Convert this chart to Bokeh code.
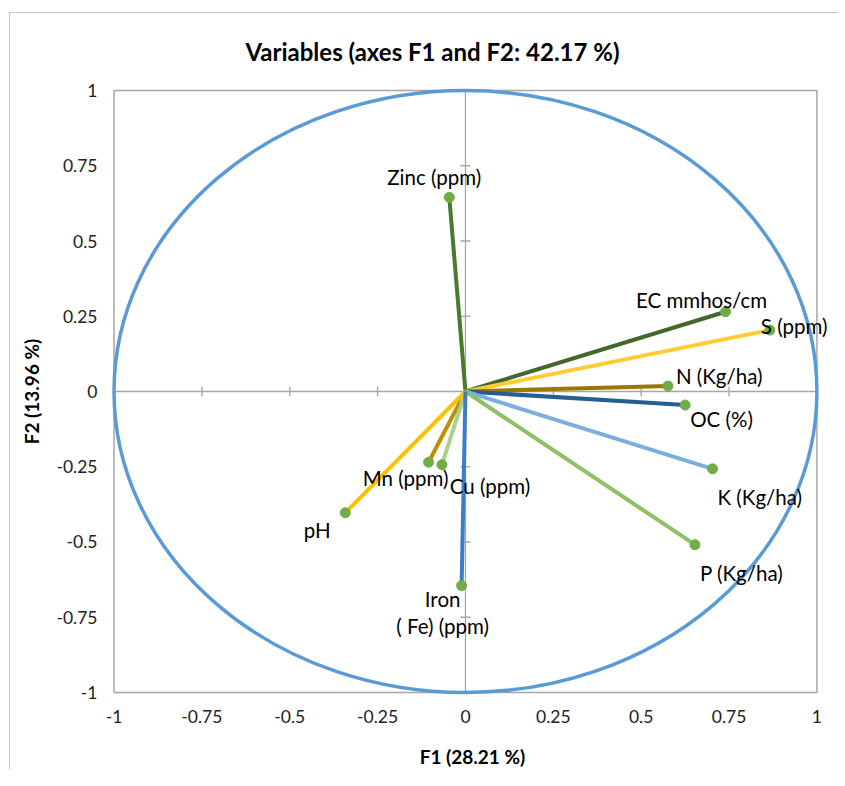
import math
from bokeh.plotting import figure
from bokeh.models import Range1d, FixedTicker, ColumnDataSource
from bokeh.core.properties import value
from bokeh.embed import file_html
from bokeh.resources import INLINE

# ---- data ----
variables = ["Zinc (ppm)", "EC mmhos/cm", "S (ppm)", "N (Kg/ha)", "OC (%)",
             "K (Kg/ha)", "P (Kg/ha)", "Mn (ppm)", "Cu (ppm)", "pH",
             "Iron\n( Fe) (ppm)"]
f1 = [-0.046, 0.740, 0.866, 0.576, 0.625, 0.703, 0.653, -0.105, -0.067, -0.342, -0.011]
f2 = [0.645, 0.265, 0.204, 0.018, -0.045, -0.257, -0.509, -0.235, -0.243, -0.403, -0.645]
tick_values = [-1, -0.75, -0.5, -0.25, 0, 0.25, 0.5, 0.75, 1]
tick_labels = ["-1", "-0.75", "-0.5", "-0.25", "0", "0.25", "0.5", "0.75", "1"]
title_text = "Variables (axes F1 and F2: 42.17 %)"
x_title = "F1 (28.21 %)"
y_title = "F2 (13.96 %)"

# ---- styles ----
line_colors = ["#4A7A2C", "#43682B", "#FFCD33", "#9C7700", "#255E91",
               "#7CAFDD", "#8CC168", "#BF9000", "#A9D18E", "#FFC000", "#3A7DC9"]
# label offsets in screen pixels (right, down)
label_dx = [-15, -24, -9, 8, 5, 5, 5, -23, 48, -28, -19]
label_dy = [-20, -12, -4, -10, 14, 28, 28, 16, 21, 17, 27]
label_align = ["center", "center", "left", "left", "left", "left", "left",
               "center", "center", "center", "center"]
FONT = "Lato"
GRAY = "#A6A6A6"

src = ColumnDataSource(dict(
    name=variables, f1=f1, f2=f2, zero=[0] * len(f1), color=line_colors,
    dx=label_dx, dy=label_dy, align=label_align))

# the plot box is -1..1; the frame is a little larger so labels are not clipped
p = figure(width=830, height=765, output_backend="svg", toolbar_location=None,
           x_range=Range1d(-1.01, 1.05), y_range=Range1d(-1.01, 1.01),
           frame_width=724, frame_height=608,
           min_border_left=100, min_border_top=72)
p.styles = {"margin-left": "10px", "margin-top": "13px",
            "box-shadow": "-1px -1px 0px 0px #C4C4C4"}

p.title.text = title_text
p.title.align = "left"
p.title.offset = 135
p.title.standoff = 43
p.title.text_font = FONT
p.title.text_font_size = "24px"
p.title.text_font_style = "bold"
p.title.text_color = "#000000"

p.grid.visible = False
p.outline_line_color = None
p.background_fill_color = "white"
p.border_fill_color = "white"

for ax in (p.xaxis[0], p.yaxis[0]):
    ax.ticker = FixedTicker(ticks=tick_values)
    ax.major_label_overrides = {v: s for v, s in zip(tick_values, tick_labels)}
    ax.axis_line_color = None
    ax.major_tick_line_color = None
    ax.minor_tick_line_color = None
    ax.major_tick_out = 0
    ax.major_tick_in = 0
    ax.minor_tick_out = 0
    ax.major_label_text_font = FONT
    ax.major_label_text_font_size = "17.5px"
    ax.major_label_text_color = "#222222"
    ax.axis_label_text_font = FONT
    ax.axis_label_text_font_size = "19px"
    ax.axis_label_text_font_style = "bold"
    ax.axis_label_text_color = "#000000"

p.xaxis.axis_label = x_title
p.yaxis.axis_label = y_title
p.xaxis.major_label_standoff = 14
p.yaxis.major_label_standoff = 13
p.xaxis.axis_label_standoff = 19
p.yaxis.axis_label_standoff = 10

# plot-area box
p.quad(left=[tick_values[0]], right=[tick_values[-1]], bottom=[tick_values[0]],
       top=[tick_values[-1]], fill_color=None, line_color=GRAY, line_width=1.5)

# crosshair axes through the origin
p.segment(x0=[0, tick_values[0]], y0=[tick_values[0], 0],
          x1=[0, tick_values[-1]], y1=[tick_values[-1], 0],
          line_color=GRAY, line_width=1.3)
inner = [t for t in tick_values if t != 0]
p.scatter(x=inner, y=[0] * len(inner), marker="dash", angle=math.pi / 2, size=10,
          line_color=GRAY, line_width=1.3)
p.scatter(x=[0] * len(inner), y=inner, marker="dash", size=10,
          line_color=GRAY, line_width=1.3)

# correlation circle
p.ellipse(x=0, y=0, width=2, height=2, fill_color=None,
          line_color="#5B9BD5", line_width=3.5)

# vectors
p.segment(x0="zero", y0="zero", x1="f1", y1="f2", source=src,
          line_color="color", line_width=4)
p.scatter(x="f1", y="f2", source=src, size=10, fill_color="#70AD47",
          line_color="#70AD47")

p.text(x="f1", y="f2", text="name", source=src, x_offset="dx", y_offset="dy",
       text_align="align", text_baseline="middle", text_font=value(FONT),
       text_font_size="20.5px", text_color="#000000", text_line_height=1.1)

open("out.html", "w").write(file_html(p, INLINE))
